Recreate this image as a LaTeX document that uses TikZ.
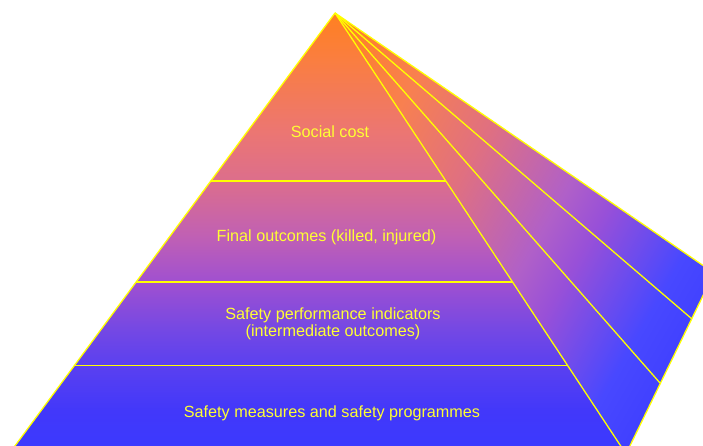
\documentclass[tikz,border=0pt]{standalone}
\usepackage{fontspec}
\setmainfont{Liberation Sans}
\usetikzlibrary{calc}
\definecolor{edgeyellow}{HTML}{FFFF00}
\definecolor{textyellow}{HTML}{FFFF33}
\definecolor{f0}{HTML}{3A3AFF}
\definecolor{f1}{HTML}{4238FA}
\definecolor{f2}{HTML}{5A40F0}
\definecolor{f3}{HTML}{7448E4}
\definecolor{f4}{HTML}{A050D0}
\definecolor{f5}{HTML}{C060B4}
\definecolor{f6}{HTML}{DC6E8C}
\definecolor{f7}{HTML}{EC7672}
\definecolor{f8}{HTML}{FA7E40}
\definecolor{f9}{HTML}{FF8020}
\definecolor{s0}{HTML}{FF8020}
\definecolor{s1}{HTML}{F88050}
\definecolor{s2}{HTML}{E07080}
\definecolor{s3}{HTML}{B060C8}
\definecolor{s4}{HTML}{9850D8}
\definecolor{s5}{HTML}{4848FF}
\definecolor{s6}{HTML}{4040FF}
\pgfdeclareverticalshading{frontsh}{100bp}{color(0bp)=(f0); color(25bp)=(f0); color(29.9bp)=(f1); color(35bp)=(f2); color(39.1bp)=(f3); color(44.5bp)=(f4); color(49.7bp)=(f5); color(56bp)=(f6); color(61.6bp)=(f7); color(69.7bp)=(f8); color(75bp)=(f9); color(100bp)=(f9)}
\pgfdeclarehorizontalshading{sidesh}{100bp}{color(0bp)=(s0); color(31.2bp)=(s0); color(39.7bp)=(s1); color(47bp)=(s2); color(55.2bp)=(s3); color(58.9bp)=(s4); color(66.4bp)=(s5); color(70.6bp)=(s6); color(100bp)=(s6)}
\begin{document}
\begin{tikzpicture}[x=1pt,y=1pt,
  edge/.style={draw=edgeyellow, line width=1.3pt},
  tierlabel/.style={text=textyellow, font=\fontsize{16.2}{17}\selectfont, align=center, inner sep=0pt}]
\useasboundingbox (0,0) rectangle (703,446);
\clip (0,0) rectangle (703,446);
\coordinate (A) at (335,433);
\coordinate (L) at (9,-8);
\coordinate (R) at (626,-8);
\coordinate (B) at (714,173);
\coordinate (P1) at (660,63);
\coordinate (P2) at (692,127);
% front face
\shade[shading=frontsh] (A) -- (L) -- (R) -- cycle;
% side face
\begin{scope}
  \clip (A) -- (R) -- (B) -- cycle;
  \begin{scope}[transform canvas={rotate=-30}]
    \shade[shading=sidesh] (0,-800) rectangle (600,800);
  \end{scope}
\end{scope}
% tier dividers
\coordinate (H1l) at ($(A)!0.381!(L)$);
\coordinate (H1r) at ($(A)!0.381!(R)$);
\coordinate (H2l) at ($(A)!0.610!(L)$);
\coordinate (H2r) at ($(A)!0.610!(R)$);
\coordinate (H3l) at ($(A)!0.800!(L)$);
\coordinate (H3r) at ($(A)!0.800!(R)$);
\draw[edge] (H1l) -- (H1r);
\draw[edge] (H2l) -- (H2r);
\draw[edge] (H3l) -- (H3r);
% edges
\draw[edge] (A) -- (L);
\draw[edge] (A) -- (R);
\draw[edge] (A) -- (B);
\draw[edge] (B) -- (R);
\draw[edge] (A) -- (P1);
\draw[edge] (A) -- (P2);
% labels
\node[tierlabel] (t1) at (330,314) {Social cost};
\node[tierlabel] (t2) at (326.5,209) {Final outcomes (killed, injured)};
\node[tierlabel] (t3) at (333,122) {Safety performance indicators\\(intermediate outcomes)};
\node[tierlabel] (t4) at (332,33) {Safety measures and safety programmes};
\end{tikzpicture}
\end{document}
